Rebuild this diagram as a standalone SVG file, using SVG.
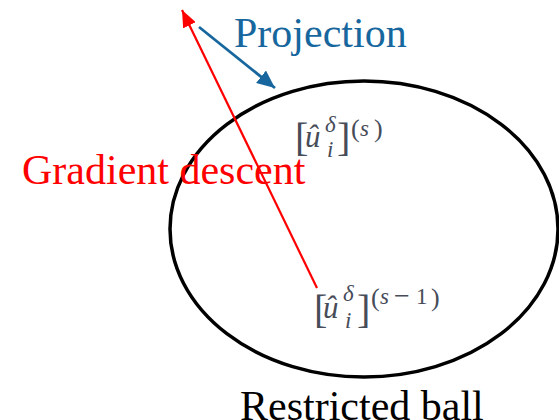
<svg xmlns="http://www.w3.org/2000/svg" width="559" height="420" viewBox="0 0 559 420">
<style>
.t{font-family:"Liberation Serif","Times New Roman",serif;font-size:42px}
.m{font-family:"Liberation Serif","Times New Roman",serif;fill:#474c59}
.mi{font-style:italic}
.b{font-size:40px}
.p{font-size:26px}
.s{font-size:23px}
.u{font-size:31px}
</style>
<defs>
<marker id="ar" markerUnits="userSpaceOnUse" markerWidth="18" markerHeight="14" refX="17" refY="7" orient="auto">
<path d="M0,0 L17,7 L0,14 z" fill="#ff0000"/>
</marker>
<marker id="ab" markerUnits="userSpaceOnUse" markerWidth="19" markerHeight="16" refX="18" refY="8" orient="auto">
<path d="M0,0 L18,8 L0,16 z" fill="#17679e"/>
</marker>
</defs>
<rect width="559" height="420" fill="#ffffff"/>
<g id="ball">
<ellipse cx="364" cy="229" rx="194" ry="148" fill="none" stroke="#000" stroke-width="3.5"/>
<text class="t" x="240" y="420" fill="#000">Restricted ball</text>
</g>
<g id="connectors">
<line x1="317" y1="288" x2="182" y2="10" stroke="#ff0000" stroke-width="2.2" marker-end="url(#ar)"/>
<line x1="199" y1="27" x2="275" y2="88" stroke="#17679e" stroke-width="2.8" marker-end="url(#ab)"/>
</g>
<g id="labels">
<text class="t" x="234" y="47" fill="#17679e">Projection</text>
<text class="t" x="22" y="184" fill="#ff0000">Gradient descent</text>
</g>
<g id="us">
<text class="m b" x="295" y="151">[</text>
<text class="m mi u" x="305" y="147">û</text>
<text class="m mi s" x="325" y="132">δ</text>
<text class="m mi s" x="327" y="157">i</text>
<text class="m b" x="337" y="151">]</text>
<text class="m p" x="351" y="137">(</text>
<text class="m mi s" x="360" y="136">s</text>
<text class="m p" x="374" y="137">)</text>
</g>
<g id="us1">
<text class="m b" x="314" y="323">[</text>
<text class="m mi u" x="323" y="318">û</text>
<text class="m mi s" x="343" y="301">δ</text>
<text class="m mi s" x="345" y="328">i</text>
<text class="m b" x="357" y="323">]</text>
<text class="m p" x="371" y="306">(</text>
<text class="m mi s" x="380" y="304">s</text>
<text class="m" x="394" y="305" font-size="28">−</text>
<text class="m s" x="416" y="304">1</text>
<text class="m p" x="431" y="306">)</text>
</g>
</svg>
